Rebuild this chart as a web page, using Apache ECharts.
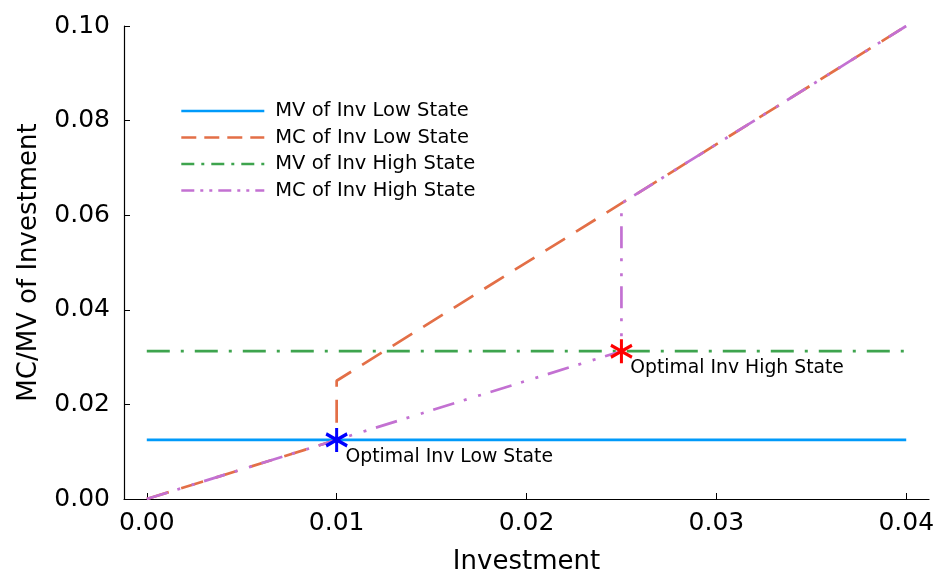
<!DOCTYPE html>
<html>
<head>
<meta charset="utf-8">
<script src="https://cdn.jsdelivr.net/npm/echarts@6/dist/echarts.min.js"></script>
<style>html,body{margin:0;padding:0;background:#fff}#c{width:937px;height:575px}</style>
</head>
<body>
<div id="c"></div>
<script>
// ---- data ----
const xTicks = [0, 0.01, 0.02, 0.03, 0.04];
const yTicks = [0, 0.02, 0.04, 0.06, 0.08, 0.10];
const seriesNames = ['MV of Inv Low State', 'MC of Inv Low State', 'MV of Inv High State', 'MC of Inv High State'];
const mvLow  = [[0, 0.0125], [0.04, 0.0125]];
const mcLow  = [[0, 0], [0.01, 0.0125], [0.01, 0.025], [0.04, 0.1]];
const mvHigh = [[0, 0.03125], [0.04, 0.03125]];
const mcHigh = [[0, 0], [0.025, 0.03125], [0.025, 0.0625], [0.04, 0.1]];
const optLow  = [0.01, 0.0125];
const optHigh = [0.025, 0.03125];
const optLabels = ['Optimal Inv Low State', 'Optimal Inv High State'];

const colors = ['#009AFA', '#E36F47', '#3EA44E', '#C371D2'];
const dashes = ['solid', [23, 13], [23, 11, 3, 11], [22, 10, 3, 12, 3, 10]];
const legendDashes = ['solid', [15, 8], [13, 7, 3, 7], [13, 6, 3, 6, 3, 6]];
const FONT = 'DejaVu Sans';
const star = 'path://M0,-10L0,10M-8.66,-5L8.66,5M-8.66,5L8.66,-5';

const lines = [mvLow, mcLow, mvHigh, mcHigh].map((d, i) => ({
  name: seriesNames[i],
  type: 'line',
  data: d,
  showSymbol: false,
  symbol: 'none',
  animation: false,
  lineStyle: { color: colors[i], width: 2.7, type: dashes[i] },
  itemStyle: { color: colors[i] },
  z: 2 + i
}));

const stars = [[optLow, 'blue', optLabels[0]], [optHigh, 'red', optLabels[1]]].map(([p, c, t]) => ({
  type: 'scatter',
  data: [p],
  symbol: star,
  symbolSize: [21, 24],
  animation: false,
  itemStyle: { color: 'none', borderColor: c, borderWidth: 3.2, opacity: 1 },
  label: {
    show: true, formatter: t, position: 'right', distance: 0, offset: [-4, 17],
    color: '#000', fontFamily: FONT, fontSize: 18.8
  },
  z: 10
}));

const chart = echarts.init(document.getElementById('c'), null, { renderer: 'canvas' });
chart.setOption({
  backgroundColor: '#fff',
  animation: false,
  grid: { left: 124, right: 8, top: 26, bottom: 76, containLabel: false, outerBoundsMode: 'none' },
  legend: {
    orient: 'vertical', left: 180, top: 101, padding: 0,
    itemWidth: 83, itemHeight: 14, itemGap: 6.5,
    itemStyle: { opacity: 0 },
    textStyle: { fontFamily: FONT, fontSize: 19.5, lineHeight: 20, color: '#000', padding: [0, 0, 0, 6] },
    data: seriesNames.map((n, i) => ({
      name: n,
      lineStyle: { color: colors[i], width: 2.6, type: legendDashes[i] }
    }))
  },
  xAxis: {
    type: 'value', min: -0.0012, max: 0.0412,
    name: 'Investment', nameLocation: 'middle', nameGap: 50,
    nameTextStyle: { fontFamily: FONT, fontSize: 26, color: '#000' },
    axisLine: { show: true, onZero: false, lineStyle: { color: '#000', width: 1.2 } },
    axisTick: { show: true, inside: true, length: 6, customValues: xTicks, lineStyle: { color: '#000', width: 1 } },
    axisLabel: { customValues: xTicks, formatter: v => v.toFixed(2), fontFamily: FONT, fontSize: 25, color: '#000', margin: 12 },
    splitLine: { show: false }
  },
  yAxis: {
    type: 'value', min: 0, max: 0.1, interval: 0.02,
    name: 'MC/MV of Investment', nameLocation: 'middle', nameGap: 82,
    nameTextStyle: { fontFamily: FONT, fontSize: 26, color: '#000' },
    axisLine: { show: true, onZero: false, lineStyle: { color: '#000', width: 1.2 } },
    axisTick: { show: true, inside: true, length: 6, lineStyle: { color: '#000', width: 1 } },
    axisLabel: { formatter: v => v.toFixed(2), fontFamily: FONT, fontSize: 25, color: '#000', margin: 14 },
    splitLine: { show: false }
  },
  series: [...lines, ...stars]
});
</script>
</body>
</html>
